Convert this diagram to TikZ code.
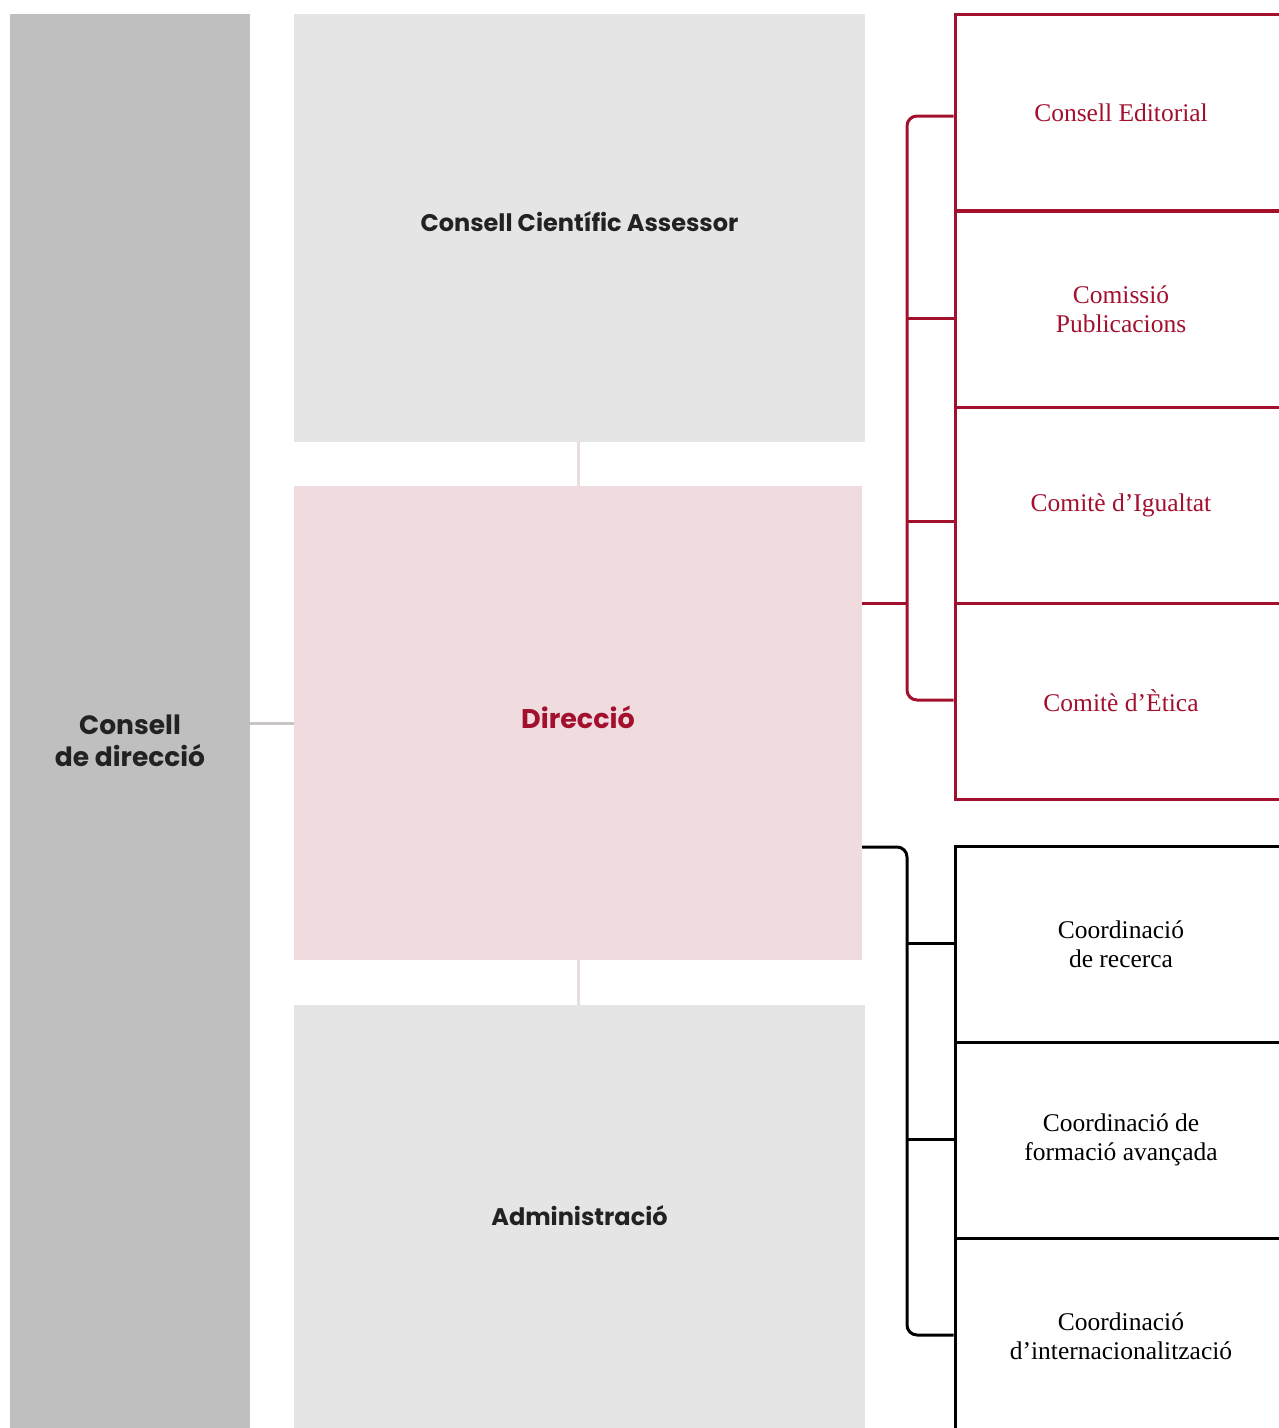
\documentclass[tikz,border=0pt]{standalone}
\usepackage{fontspec}
\setmainfont{Liberation Serif}
\newfontfamily\poppins{Poppins}
\usetikzlibrary{positioning}
\definecolor{iecred}{RGB}{163,16,46}
\definecolor{barGrey}{RGB}{191,191,191}
\definecolor{boxGrey}{RGB}{229,229,229}
\definecolor{boxPink}{RGB}{240,220,223}
\definecolor{linkGrey}{RGB}{232,222,224}
\definecolor{inkDark}{RGB}{34,34,34}
\tikzset{
  panel/.style={inner sep=0pt},
  bigtext/.style={inner sep=0pt, align=center, font=\poppins\bfseries\fontsize{24}{32}\selectfont, text=inkDark},
  redbox/.style={draw=iecred, line width=3pt, minimum width=332pt, minimum height=196pt, inner sep=0pt,
    align=center, text=iecred, font=\fontsize{25.5}{29}\selectfont},
  blackbox/.style={redbox, draw=black, text=black},
  redline/.style={draw=iecred, line width=3pt},
  blackline/.style={draw=black, line width=3pt},
  softline/.style={draw=linkGrey, line width=3pt}
}
\begin{document}
\begin{tikzpicture}[x=1pt, y=-1pt]
\useasboundingbox (0,0) rectangle (1279,1428);
% left column
\node[panel, fill=barGrey, minimum width=240pt, minimum height=1454pt] (cdbar) at (130,741) {};
\node[bigtext, font=\poppins\bfseries\fontsize{26.5}{32}\selectfont] (cd) at (130,741) {Consell\\de direcció};
% middle column
\node[panel, fill=boxGrey, minimum width=571pt, minimum height=428pt] (cca) at (579.5,228) {};
\node[bigtext] (ccaT) at ([yshift=6pt]cca.center) {Consell Científic Assessor};
\node[panel, fill=boxPink, minimum width=568pt, minimum height=474pt] (dir) at (578,723) {};
\node[bigtext, text=iecred, font=\poppins\bfseries\fontsize{27}{32}\selectfont] (dirT) at ([yshift=6pt]dir.center) {Direcció};
\node[panel, fill=boxGrey, minimum width=571pt, minimum height=423pt] (adm) at (579.5,1216.5) {};
\node[bigtext] (admT) at ([yshift=1pt]adm.center) {Administració};
\draw[softline] (dir.north) -- (dir.north |- cca.south);
\draw[softline] (dir.south) -- (dir.south |- adm.north);
\draw[draw=barGrey!80!boxPink, line width=3pt] (dir.west) -- (cdbar.east |- dir.west);
% committees
\node[redbox] (ce) at (1121,112.5) {Consell Editorial};
\node[redbox] (cp) at (1121,309) {Comissió\\Publicacions};
\node[redbox] (ci) at (1121,505) {Comitè d’Igualtat};
\node[redbox] (et) at (1121,701) {Comitè d’Ètica};
% coordinations
\node[blackbox] (cr) at (1121,944) {Coordinació\\de recerca};
\node[blackbox] (cf) at (1121,1140) {Coordinació de\\formació avançada};
\node[blackbox] (cn) at (1121,1336) {Coordinació\\d’internacionalització};
% red bracket
\coordinate (rj) at (907,603);
\draw[redline] (dir.east |- rj) -- (rj);
\draw[redline, rounded corners=10pt] (ce.west |- 0,116) -- (907,116) -- (907,700) -- (et.west |- 0,700);
\draw[redline] (907,318) -- (cp.west |- 0,318);
\draw[redline] (907,521) -- (ci.west |- 0,521);
% black bracket
\draw[blackline, rounded corners=10pt] (dir.east |- 0,847) -- (907,847) -- (907,1335) -- (cn.west |- 0,1335);
\draw[blackline] (907,943) -- (cr.west |- 0,943);
\draw[blackline] (907,1139) -- (cf.west |- 0,1139);
\end{tikzpicture}
\end{document}
